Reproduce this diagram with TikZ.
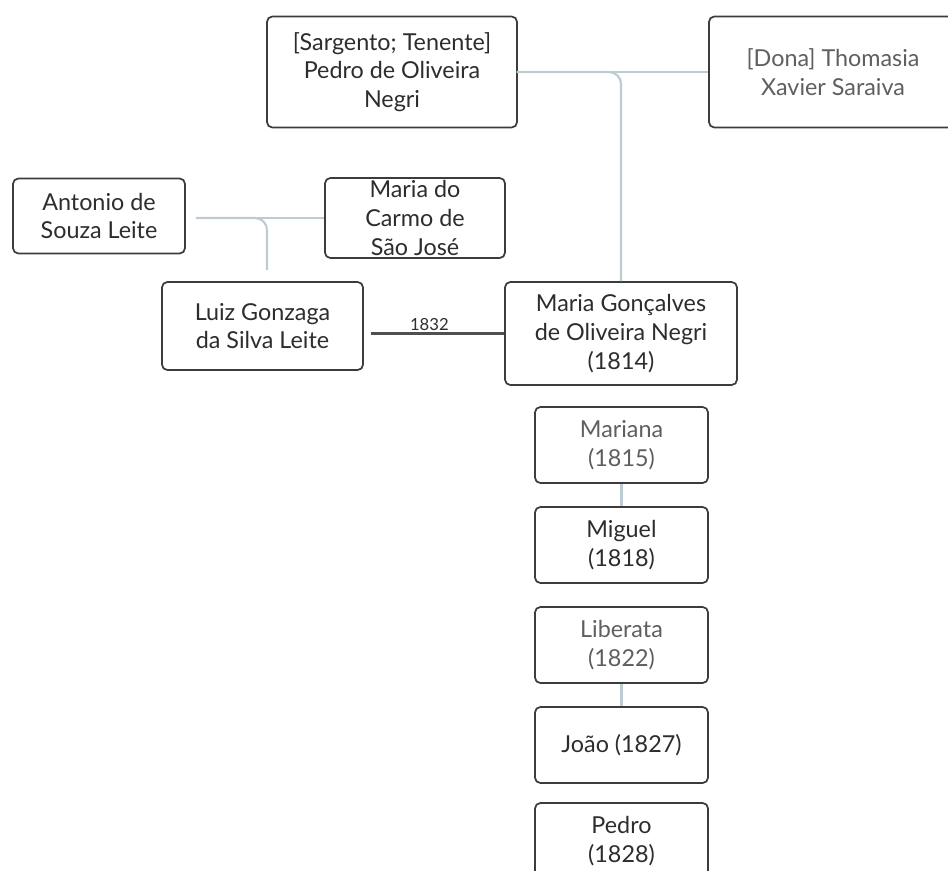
\documentclass[tikz,border=0pt]{standalone}
\usepackage{fontspec}
\setmainfont{Lato}
\usetikzlibrary{calc}

\definecolor{boxgray}{RGB}{60,60,60}
\definecolor{textgray}{RGB}{45,45,45}
\definecolor{fadetext}{RGB}{95,95,95}
\definecolor{linkblue}{RGB}{188,204,210}
\definecolor{wedgray}{RGB}{80,80,80}

\tikzset{every picture/.style={line width=0.75pt}}
\tikzset{
  person/.style={draw=boxgray, line width=1.3pt, rounded corners=4pt, fill=white,
    align=center, inner sep=0pt, text=textgray,
    font=\fontsize{17.5}{21.5}\selectfont},
  faded/.style={person, text=fadetext},
  child/.style={minimum width=129.75pt, minimum height=57pt},
  famline/.style={draw=linkblue, line width=1.6pt},
  wedline/.style={draw=wedgray, line width=2.2pt},
}

\begin{document}
\begin{tikzpicture}[x=0.75pt,y=0.75pt,yscale=-1,xscale=1]
	\useasboundingbox (0,0) rectangle (948,870);
	\clip (0,0) rectangle (948,870);

	% Parents of the bride
	\node [person, minimum width=187.5pt, minimum height=83.25pt] (pedro) at (392,72) {[Sargento; Tenente]\\Pedro de Oliveira\\Negri};
	\node [faded, minimum width=186pt, minimum height=83.25pt] (thomasia) at (833,72) {[Dona] Thomasia\\Xavier Saraiva};

	% Parents of the groom
	\node [person, minimum width=129pt, minimum height=56.25pt] (antonio) at (99,216) {Antonio de\\Souza Leite};
	\node [person, minimum width=135pt, minimum height=60pt] (carmo) at (415,218) {Maria do\\Carmo de\\São José};

	% The couple
	\node [person, minimum width=150.75pt, minimum height=66pt] (luiz) at (262.5,326) {Luiz Gonzaga\\da Silva Leite};
	\node [person, minimum width=174pt, minimum height=77.25pt] (maria) at (621,333.5) {Maria Gonçalves\\de Oliveira Negri\\(1814)};

	% Siblings
	\node [faded, child] (mariana) at (621.5,445) {Mariana\\(1815)};
	\node [person, child] (miguel) at (621.5,545) {Miguel\\(1818)};
	\node [faded, child] (liberata) at (621.5,645) {Liberata\\(1822)};
	\node [person, child] (joao) at (621.5,745) {João (1827)};
	\node [person, child] (pedrojr) at (621.5,841) {Pedro\\(1828)};

	\coordinate (luizup) at (267,270);

	% Family links
	\draw [famline] (pedro.east) -- (thomasia.west);
	\draw [famline, rounded corners=9pt] ([xshift=-1pt]pedro.east) -| (maria.north);
	\draw [famline] ([xshift=7.5pt]antonio.east |- carmo.west) -- (carmo.west);
	\draw [famline, rounded corners=9pt] ([xshift=7.5pt]antonio.east |- carmo.west) -| (luizup);
	\draw [famline] (mariana.south) -- (miguel.north);
	\draw [famline] (liberata.south) -- (joao.north);

	% Marriage
	\draw [wedline] ([xshift=5pt]luiz.east |- maria.west) -- (maria.west) node [midway, above=-2.5pt, xshift=-6pt, text=textgray, font=\fontsize{12.5}{14}\selectfont] (wed) {1832};

\end{tikzpicture}
\end{document}
